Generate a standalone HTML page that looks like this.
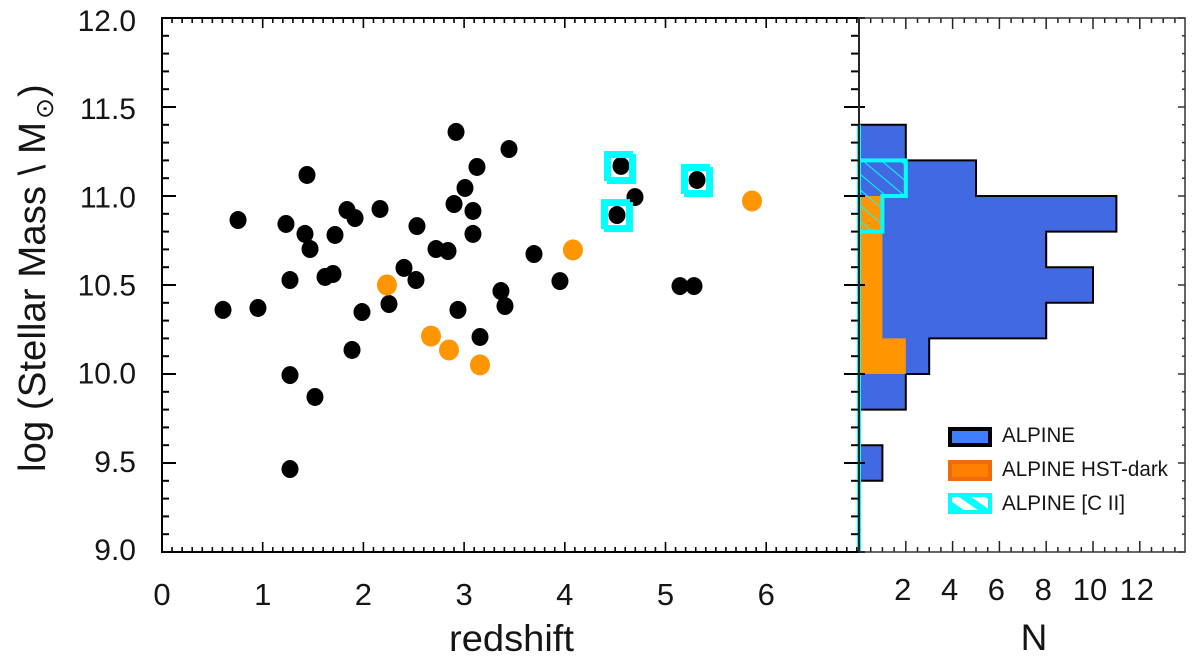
<!DOCTYPE html>
<html lang="en">
<head>
<meta charset="utf-8">
<title>ALPINE stellar mass versus redshift</title>
<style>
html,body{margin:0;padding:0;background:#fff;}
svg{display:block;}
text{font-family:"Liberation Sans",sans-serif;fill:#151515;}
</style>
</head>
<body>
<svg id="chart" xmlns="http://www.w3.org/2000/svg" width="1200" height="667" viewBox="0 0 1200 667">
  <defs>
    <pattern id="hatch" patternUnits="userSpaceOnUse" width="12" height="12" patternTransform="rotate(40)">
      <line x1="0" y1="0" x2="12" y2="0" stroke="#00ffff" stroke-width="2"/>
    </pattern>
    <pattern id="legendHatch" patternUnits="userSpaceOnUse" width="15" height="15" patternTransform="rotate(35)">
      <rect width="15" height="15" fill="#ffffff"/>
      <rect width="15" height="7" fill="#00ffff"/>
    </pattern>
  </defs>
  <g id="histogram"></g>
  <g id="ticks"></g>
  <rect x="162" y="18" width="697" height="534" fill="none" stroke="#000" stroke-width="2"/>
  <rect x="859" y="18" width="326" height="534" fill="none" stroke="#333" stroke-width="1.5"/>
  <g id="points"></g>
  <g id="labels"></g>

  <text x="449" y="651" font-size="37" textLength="125" lengthAdjust="spacingAndGlyphs">redshift</text>
  <text x="1034" y="650" font-size="37" text-anchor="middle">N</text>
  <text transform="translate(45,472) rotate(-90)" font-size="38" textLength="350" lengthAdjust="spacingAndGlyphs">log (Stellar Mass \ M</text>
  <text transform="translate(53,119) rotate(-90)" font-size="25" style="font-family:'DejaVu Sans',sans-serif">⊙</text>
  <text transform="translate(45,97) rotate(-90)" font-size="38">)</text>

  <g>
    <rect x="950" y="429" width="40" height="16" fill="#3f7fff" stroke="#000" stroke-width="4"/>
    <text x="1002" y="442" font-size="21" textLength="73" lengthAdjust="spacingAndGlyphs">ALPINE</text>
    <rect x="950" y="462" width="40" height="17" fill="#ff8000" stroke="#f06a10" stroke-width="4"/>
    <text x="1002" y="476" font-size="21" textLength="166" lengthAdjust="spacingAndGlyphs">ALPINE HST-dark</text>
    <rect x="950" y="495" width="40" height="17" fill="url(#legendHatch)" stroke="#00ffff" stroke-width="4"/>
    <text x="1002" y="510" font-size="21" textLength="123" lengthAdjust="spacingAndGlyphs">ALPINE [C II]</text>
  </g>
</svg>
<script>
var blackRedshift = [0.606,0.755,0.953,1.231,1.271,1.271,1.271,1.42,1.47,1.44,1.519,1.619,1.698,1.718,1.837,1.887,1.917,1.986,2.165,2.254,2.403,2.532,2.522,2.721,2.84,2.9,2.92,2.939,3.009,3.088,3.088,3.128,3.158,3.366,3.406,3.446,3.694,3.952,4.558,4.518,4.697,5.144,5.283,5.313];
var blackMass = [10.36,10.865,10.371,10.843,10.528,9.994,9.466,10.787,10.702,11.118,9.871,10.545,10.562,10.781,10.921,10.135,10.876,10.348,10.927,10.393,10.596,10.831,10.528,10.702,10.691,10.955,11.36,10.36,11.045,10.916,10.787,11.163,10.208,10.466,10.382,11.264,10.674,10.522,11.169,10.893,10.994,10.494,10.494,11.09];
var orangeRedshift = [2.234,2.671,2.85,3.158,4.081,5.859];
var orangeMass = [10.5,10.213,10.135,10.051,10.697,10.972];
var ciiRedshift = [4.548,4.518,5.313];
var ciiMass = [11.16,10.89,11.087];

var binEdges = [9.0,9.2,9.4,9.6,9.8,10.0,10.2,10.4,10.6,10.8,11.0,11.2,11.4];
var alpineCounts = [0,0,1,0,2,3,8,10,8,11,5,2];
var hstDarkCounts = [0,0,0,0,0,2,1,1,1,1,0,0];
var ciiCounts = [0,0,0,0,0,0,0,0,0,1,2,0];

var massTicks = [9.0,9.5,10.0,10.5,11.0,11.5,12.0];
var massTickLabels = ["9.0","9.5","10.0","10.5","11.0","11.5","12.0"];
var redshiftTicks = [0,1,2,3,4,5,6];
var redshiftTickLabels = ["0","1","2","3","4","5","6"];
var countTicks = [2,4,6,8,10,12];
var countTickLabels = ["2","4","6","8","10","12"];

var NS = "http://www.w3.org/2000/svg";
function xScale(z){ return 162 + z * 100.7; }
function yScale(m){ return 18 + (12 - m) * 178; }
function nScale(n){ return 859 + n * 23.4; }
function make(tag, parent){
  var el = document.createElementNS(NS, tag);
  parent.appendChild(el);
  return el;
}
function stepPath(counts){
  var d = "M" + nScale(0) + " " + yScale(binEdges[0]);
  for (var i = 0; i < counts.length; i++){
    d += "L" + nScale(counts[i]) + " " + yScale(binEdges[i]);
    d += "L" + nScale(counts[i]) + " " + yScale(binEdges[i + 1]);
  }
  d += "L" + nScale(0) + " " + yScale(binEdges[binEdges.length - 1]) + "Z";
  return d;
}

/* histogram */
var hist = document.getElementById("histogram");
var alpineBars = make("path", hist);


alpineBars.setAttribute("d", stepPath(alpineCounts));
alpineBars.setAttribute("fill", "#4169e1");
alpineBars.setAttribute("stroke", "#000");
alpineBars.setAttribute("stroke-width", "2");

var hstBars = make("path", hist);


hstBars.setAttribute("d", stepPath(hstDarkCounts));
hstBars.setAttribute("fill", "#ff9500");

var ciiBars = make("path", hist);


ciiBars.setAttribute("d", stepPath(ciiCounts));
ciiBars.setAttribute("fill", "url(#hatch)");
ciiBars.setAttribute("stroke", "#00ffff");
ciiBars.setAttribute("stroke-width", "4");

var ciiBaseline = make("line", hist);


ciiBaseline.setAttribute("x1", nScale(0));
ciiBaseline.setAttribute("x2", nScale(0));
ciiBaseline.setAttribute("y1", 143);
ciiBaseline.setAttribute("y2", yScale(9));
ciiBaseline.setAttribute("stroke", "#00ffff");
ciiBaseline.setAttribute("stroke-width", "4");

/* ticks */
var tickGroup = document.getElementById("ticks");
function tick(x1, y1, x2, y2, w, color){
  var t = make("line", tickGroup);
  
  
  t.setAttribute("x1", x1);
  t.setAttribute("y1", y1);
  t.setAttribute("x2", x2);
  t.setAttribute("y2", y2);
  t.setAttribute("stroke", color);
  t.setAttribute("stroke-width", w);
}
var i, major, v, px;
for (i = 0; i <= 30; i++){
  v = 9 + i * 0.1;
  px = yScale(v);
  major = i % 5 === 0;
  tick(162, px, 162 + (major ? 14 : 7), px, 2, "#000");
  tick(859, px, 859 - (major ? 15 : 8), px, 2, "#000");
  if (major) tick(859, px, 865, px, 2, "#000");
  tick(1185, px, 1185 - (major ? 7 : 3), px, 1.5, "#333");
}
for (i = 0; i <= 69; i++){
  px = xScale(i * 0.1);
  major = i % 10 === 0;
  tick(px, 552, px, 552 - (major ? 10 : 5), 1.6, "#000");
  tick(px, 18, px, 18 + (major ? 10 : 5), 1.6, "#000");
}
for (i = 1; i <= 27; i++){
  px = nScale(i * 0.5);
  major = i % 4 === 0;
  tick(px, 552, px, 552 - (major ? 11 : 5), 1.5, "#222");
  tick(px, 18, px, 18 + (major ? 11 : 5), 1.5, "#222");
}

/* points */
var pointGroup = document.getElementById("points");
for (i = 0; i < blackRedshift.length; i++){
  var bp = make("ellipse", pointGroup);
  
  
  bp.setAttribute("cx", xScale(blackRedshift[i]));
  bp.setAttribute("cy", yScale(blackMass[i]));
  bp.setAttribute("rx", 8.5);
  bp.setAttribute("ry", 9);
  bp.setAttribute("fill", "#000");
}
for (i = 0; i < orangeRedshift.length; i++){
  var op = make("ellipse", pointGroup);
  
  
  op.setAttribute("cx", xScale(orangeRedshift[i]));
  op.setAttribute("cy", yScale(orangeMass[i]));
  op.setAttribute("rx", 10);
  op.setAttribute("ry", 10.5);
  op.setAttribute("fill", "#ff9500");
}
for (i = 0; i < ciiRedshift.length; i++){
  for (var k = -1; k <= 1; k += 2){
    var sq = make("rect", pointGroup);
    
    
    sq.setAttribute("x", xScale(ciiRedshift[i]) + k * 1.5 - 12.5);
    sq.setAttribute("y", yScale(ciiMass[i]) + k * 1.5 - 13);
    sq.setAttribute("width", 25);
    sq.setAttribute("height", 26);
    sq.setAttribute("fill", "none");
    sq.setAttribute("stroke", "#00ffff");
    sq.setAttribute("stroke-width", 4);
  }
}

/* tick labels */
var labelGroup = document.getElementById("labels");
for (i = 0; i < massTicks.length; i++){
  var ml = make("text", labelGroup);
  
  
  ml.setAttribute("x", 136);
  ml.setAttribute("y", 31 + (12 - massTicks[i]) * 176.3);
  ml.setAttribute("text-anchor", "end");
  ml.setAttribute("font-size", 30);
  ml.textContent = massTickLabels[i];
}
for (i = 0; i < redshiftTicks.length; i++){
  var zl = make("text", labelGroup);
  
  
  zl.setAttribute("x", xScale(redshiftTicks[i]));
  zl.setAttribute("y", 605);
  zl.setAttribute("text-anchor", "middle");
  zl.setAttribute("font-size", 31);
  zl.textContent = redshiftTickLabels[i];
}
for (i = 0; i < countTicks.length; i++){
  var nl = make("text", labelGroup);
  
  
  nl.setAttribute("x", nScale(countTicks[i]) - 3);
  nl.setAttribute("y", 600);
  nl.setAttribute("text-anchor", "middle");
  nl.setAttribute("font-size", 31);
  nl.textContent = countTickLabels[i];
}
</script>
</body>
</html>
